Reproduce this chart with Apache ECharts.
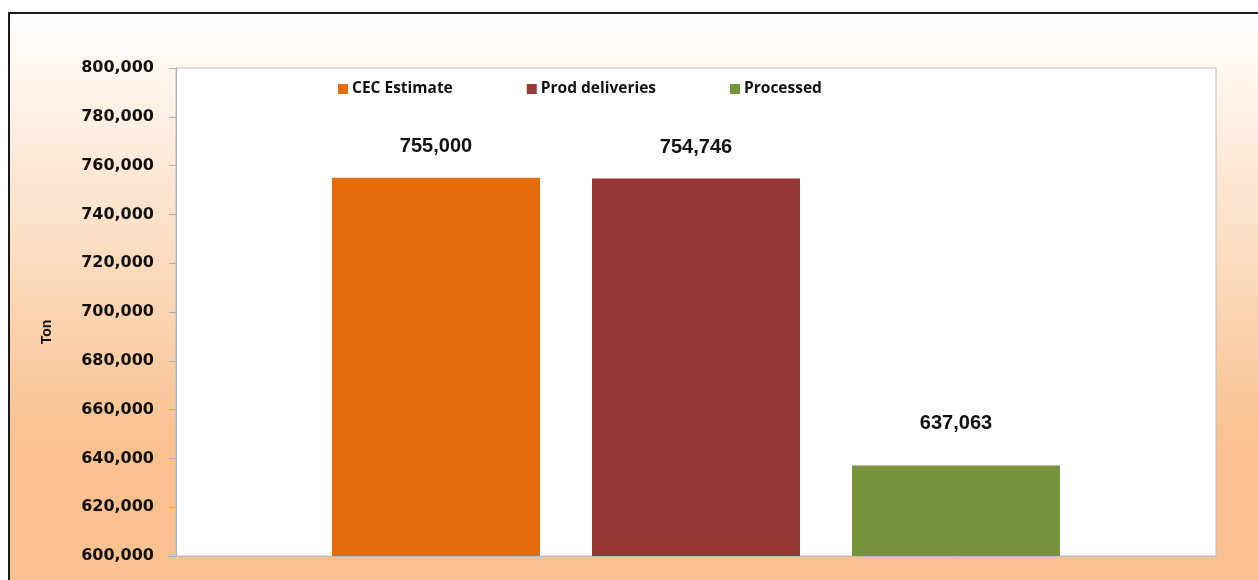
<!DOCTYPE html>
<html>
<head lang="en">
    <meta charset="UTF-8">
    <title>Ton</title>
    <script src="https://cdn.jsdelivr.net/npm/echarts@6/dist/echarts.min.js"></script>
    <style>
        html, body { margin: 0; padding: 0; background: #fff; }
        #main { width: 1258px; height: 580px; }
    </style>
</head>
<body>
<div id="main"></div>
<script>
    // data
    var categories = [''];
    var seriesNames = ['CEC Estimate', 'Prod deliveries', 'Processed'];
    var seriesValues = [[755000], [754746], [637063]];
    var seriesColors = ['#E46C0A', '#953735', '#77933C'];
    var yTicks = { min: 600000, max: 800000, step: 20000 };

    function fmt(v) {
        return String(v).replace(/\B(?=(\d{3})+(?!\d))/g, ',');
    }

    var myChart = echarts.init(document.getElementById('main'));

    var series = [];
    for (var i = 0; i < seriesNames.length; i++) {
        series.push({
            name: seriesNames[i],
            type: 'bar',
            data: seriesValues[i],
            barWidth: 208,
            barGap: '25%',
            itemStyle: { color: seriesColors[i] },
            label: {
                show: true,
                position: 'top',
                // the last label sits a bit higher above its bar
                distance: i == 2 ? 32 : 21,
                formatter: function (p) { return fmt(p.value); },
                fontFamily: 'Liberation Sans',
                fontWeight: 'bold',
                fontSize: 20,
                color: '#111'
            }
        });
    }

    var option = {
        backgroundColor: '#fff',
        animation: false,
        graphic: [{
            type: 'rect',
            z: -10,
            shape: { x: 9, y: 13, width: 1270, height: 600 },
            style: {
                fill: new echarts.graphic.LinearGradient(0, 0, 0, 1, [
                    { offset: 0, color: '#FFFFFF' },
                    { offset: 0.72, color: '#F9C18F' },
                    { offset: 1, color: '#F9C18F' }
                ]),
                stroke: '#1a1a1a',
                lineWidth: 2
            }
        }],
        legend: {
            left: 333,
            top: 76,
            itemWidth: 10,
            itemHeight: 10,
            itemGap: 74,
            icon: 'rect',
            textStyle: {
                fontFamily: 'Open Sans',
                fontWeight: 'bold',
                fontSize: 15.5,
                color: '#111',
                padding: [0, 0, 0, -1]
            },
            data: seriesNames
        },
        grid: {
            left: 176,
            top: 68,
            right: 42,
            bottom: 24,
            show: true,
            backgroundColor: '#fff',
            borderColor: '#BDBDBD',
            borderWidth: 1
        },
        xAxis: {
            type: 'category',
            data: categories,
            axisLine: { show: true, lineStyle: { color: '#BDBDBD' } },
            axisTick: { show: false },
            axisLabel: { show: false }
        },
        yAxis: {
            type: 'value',
            min: yTicks.min,
            max: yTicks.max,
            interval: yTicks.step,
            name: 'Ton',
            nameLocation: 'middle',
            nameGap: 122,
            nameRotate: 90,
            nameTextStyle: {
                fontFamily: 'Liberation Sans',
                fontWeight: 'bold',
                fontSize: 14,
                color: '#111',
                padding: [0, 40, 0, 0]
            },
            axisLine: { show: true, lineStyle: { color: '#AFAFAF' } },
            axisTick: { show: true, length: 7, lineStyle: { color: '#AFAFAF' } },
            splitLine: { show: false },
            axisLabel: {
                margin: 22,
                formatter: function (v) { return fmt(v); },
                fontFamily: 'DejaVu Sans',
                fontWeight: 'bold',
                fontSize: 16,
                color: '#111'
            }
        },
        series: series
    };

    myChart.setOption(option);
</script>
</body>
</html>
